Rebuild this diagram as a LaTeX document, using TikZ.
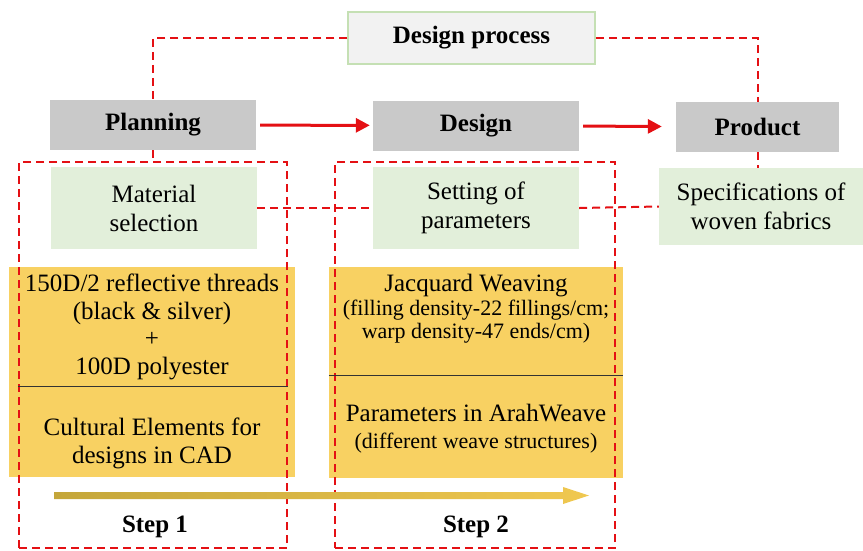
\documentclass[tikz,border=0pt]{standalone}
\usepackage{fontspec}
\setmainfont{Liberation Serif}
\usepackage{tikz}
\usetikzlibrary{arrows.meta,positioning,calc}
\definecolor{FlowRed}{RGB}{228,16,20}
\definecolor{StageGray}{RGB}{201,201,201}
\definecolor{PaleGray}{RGB}{242,242,242}
\definecolor{LeafGreen}{RGB}{197,224,180}
\definecolor{SoftGreen}{RGB}{226,239,218}
\definecolor{PanelGold}{RGB}{248,209,98}
\definecolor{BarGoldDark}{RGB}{196,166,58}
\definecolor{BarGoldLight}{RGB}{240,200,80}

\begin{document}
\begin{tikzpicture}[x=1pt,y=-1pt,>=Triangle,
    font=\fontsize{25}{29}\selectfont,
    stage/.style={fill=StageGray,minimum width=206,minimum height=50,font=\fontsize{25}{29}\selectfont\bfseries},
    task/.style={fill=SoftGreen,align=center,minimum width=206,minimum height=82},
    panel/.style={fill=PanelGold,inner sep=0},
    frame/.style={draw=FlowRed,line width=2pt,dash pattern=on 8pt off 5pt,inner sep=0},
    link/.style={FlowRed,line width=2pt,dash pattern=on 8pt off 5pt},
    flow/.style={->,FlowRed,line width=3pt,arrows={-Triangle[length=14pt,width=14pt]}}]
  \useasboundingbox (0,0) rectangle (863,550);

  % top level
  \node[draw=LeafGreen,line width=1.5pt,fill=PaleGray,minimum width=247,minimum height=52,
        font=\fontsize{25}{29}\selectfont\bfseries] (proc) at (471.5,38) {Design process};
  \node[stage] (plan) at (153,125) {Planning};
  \node[stage] (design) at (476,125.5) {Design};
  \node[stage,minimum width=163] (prod) at (757.5,127) {Product};
  \draw[flow,shorten <=4pt,shorten >=3pt] (plan) -- (design);
  \draw[flow,shorten <=4pt,shorten >=14pt] (design) -- (prod);

  % second row
  \node[task] (mat) at (154,208) {Material\\selection};
  \node[task] (setp) at (476,208) {Setting of\\parameters};
  \node[task,minimum width=204,minimum height=77] (spec) at (761,206.5)
        {Specifications of\\woven fabrics};

  % gold panels
  \node[panel,minimum width=286,minimum height=210] (panA) at (152,372) {};
  \node[panel,minimum width=294,minimum height=211] (panB) at (476,372.5) {};

  % step frames
  \node[frame,minimum width=268,minimum height=386] (stepA) at (153,355) {};
  \node[frame,minimum width=280,minimum height=386] (stepB) at (475,355) {};

  \draw[link] (proc.west) -| (plan.north);
  \draw[link] (proc.east) -| (prod.north);
  \draw[link] (plan.south) -- (plan.south |- stepA.north);
  \draw[link] (prod.south) -- (spec.north -| prod.south);
  \draw[link] (mat.east) -- (setp.west);
  \draw[link] (setp.east) -- (spec.west);

  % dividers
  \draw[thin,black!80] (stepA.west |- 0,386) -- (stepA.east |- 0,386);
  \draw[thin,black!80] (panB.west |- 0,375) -- (panB.east |- 0,375);

  % panel texts
  \node[align=center,font=\fontsize{25}{27.5}\selectfont] (yarn) at (152,327)
        {150D/2 reflective threads\\(black \& silver)\\+\\100D polyester};
  \node[align=center,font=\fontsize{25}{28}\selectfont] (motif) at (152,443)
        {Cultural Elements for\\designs in CAD};
  \node[align=center,font=\fontsize{25}{23.5}\selectfont] (jacq) at (476,309)
        {Jacquard Weaving\\{\fontsize{22}{23.5}\selectfont(filling density-22 fillings/cm;}\\
         {\fontsize{22}{23.5}\selectfont warp density-47 ends/cm)}};
  \node[align=center,font=\fontsize{25}{27}\selectfont] (arah) at (476,429)
        {Parameters in ArahWeave\\{\fontsize{22}{27}\selectfont(different weave structures)}};

  % progress bar
  \coordinate (barS) at (54,495.5);
  \coordinate (barE) at (589,495.5);
  \shade[left color=BarGoldDark,right color=BarGoldLight]
    ($(barS)+(0,-3.5)$) -- ($(barE)+(-26,-3.5)$) -- ($(barE)+(-26,-8.5)$) -- (barE)
    -- ($(barE)+(-26,8.5)$) -- ($(barE)+(-26,3.5)$) -- ($(barS)+(0,3.5)$) -- cycle;

  \node[font=\fontsize{25}{29}\selectfont\bfseries] (lblA) at (155,527) {Step 1};
  \node[font=\fontsize{25}{29}\selectfont\bfseries] (lblB) at (476,527) {Step 2};
\end{tikzpicture}
\end{document}
